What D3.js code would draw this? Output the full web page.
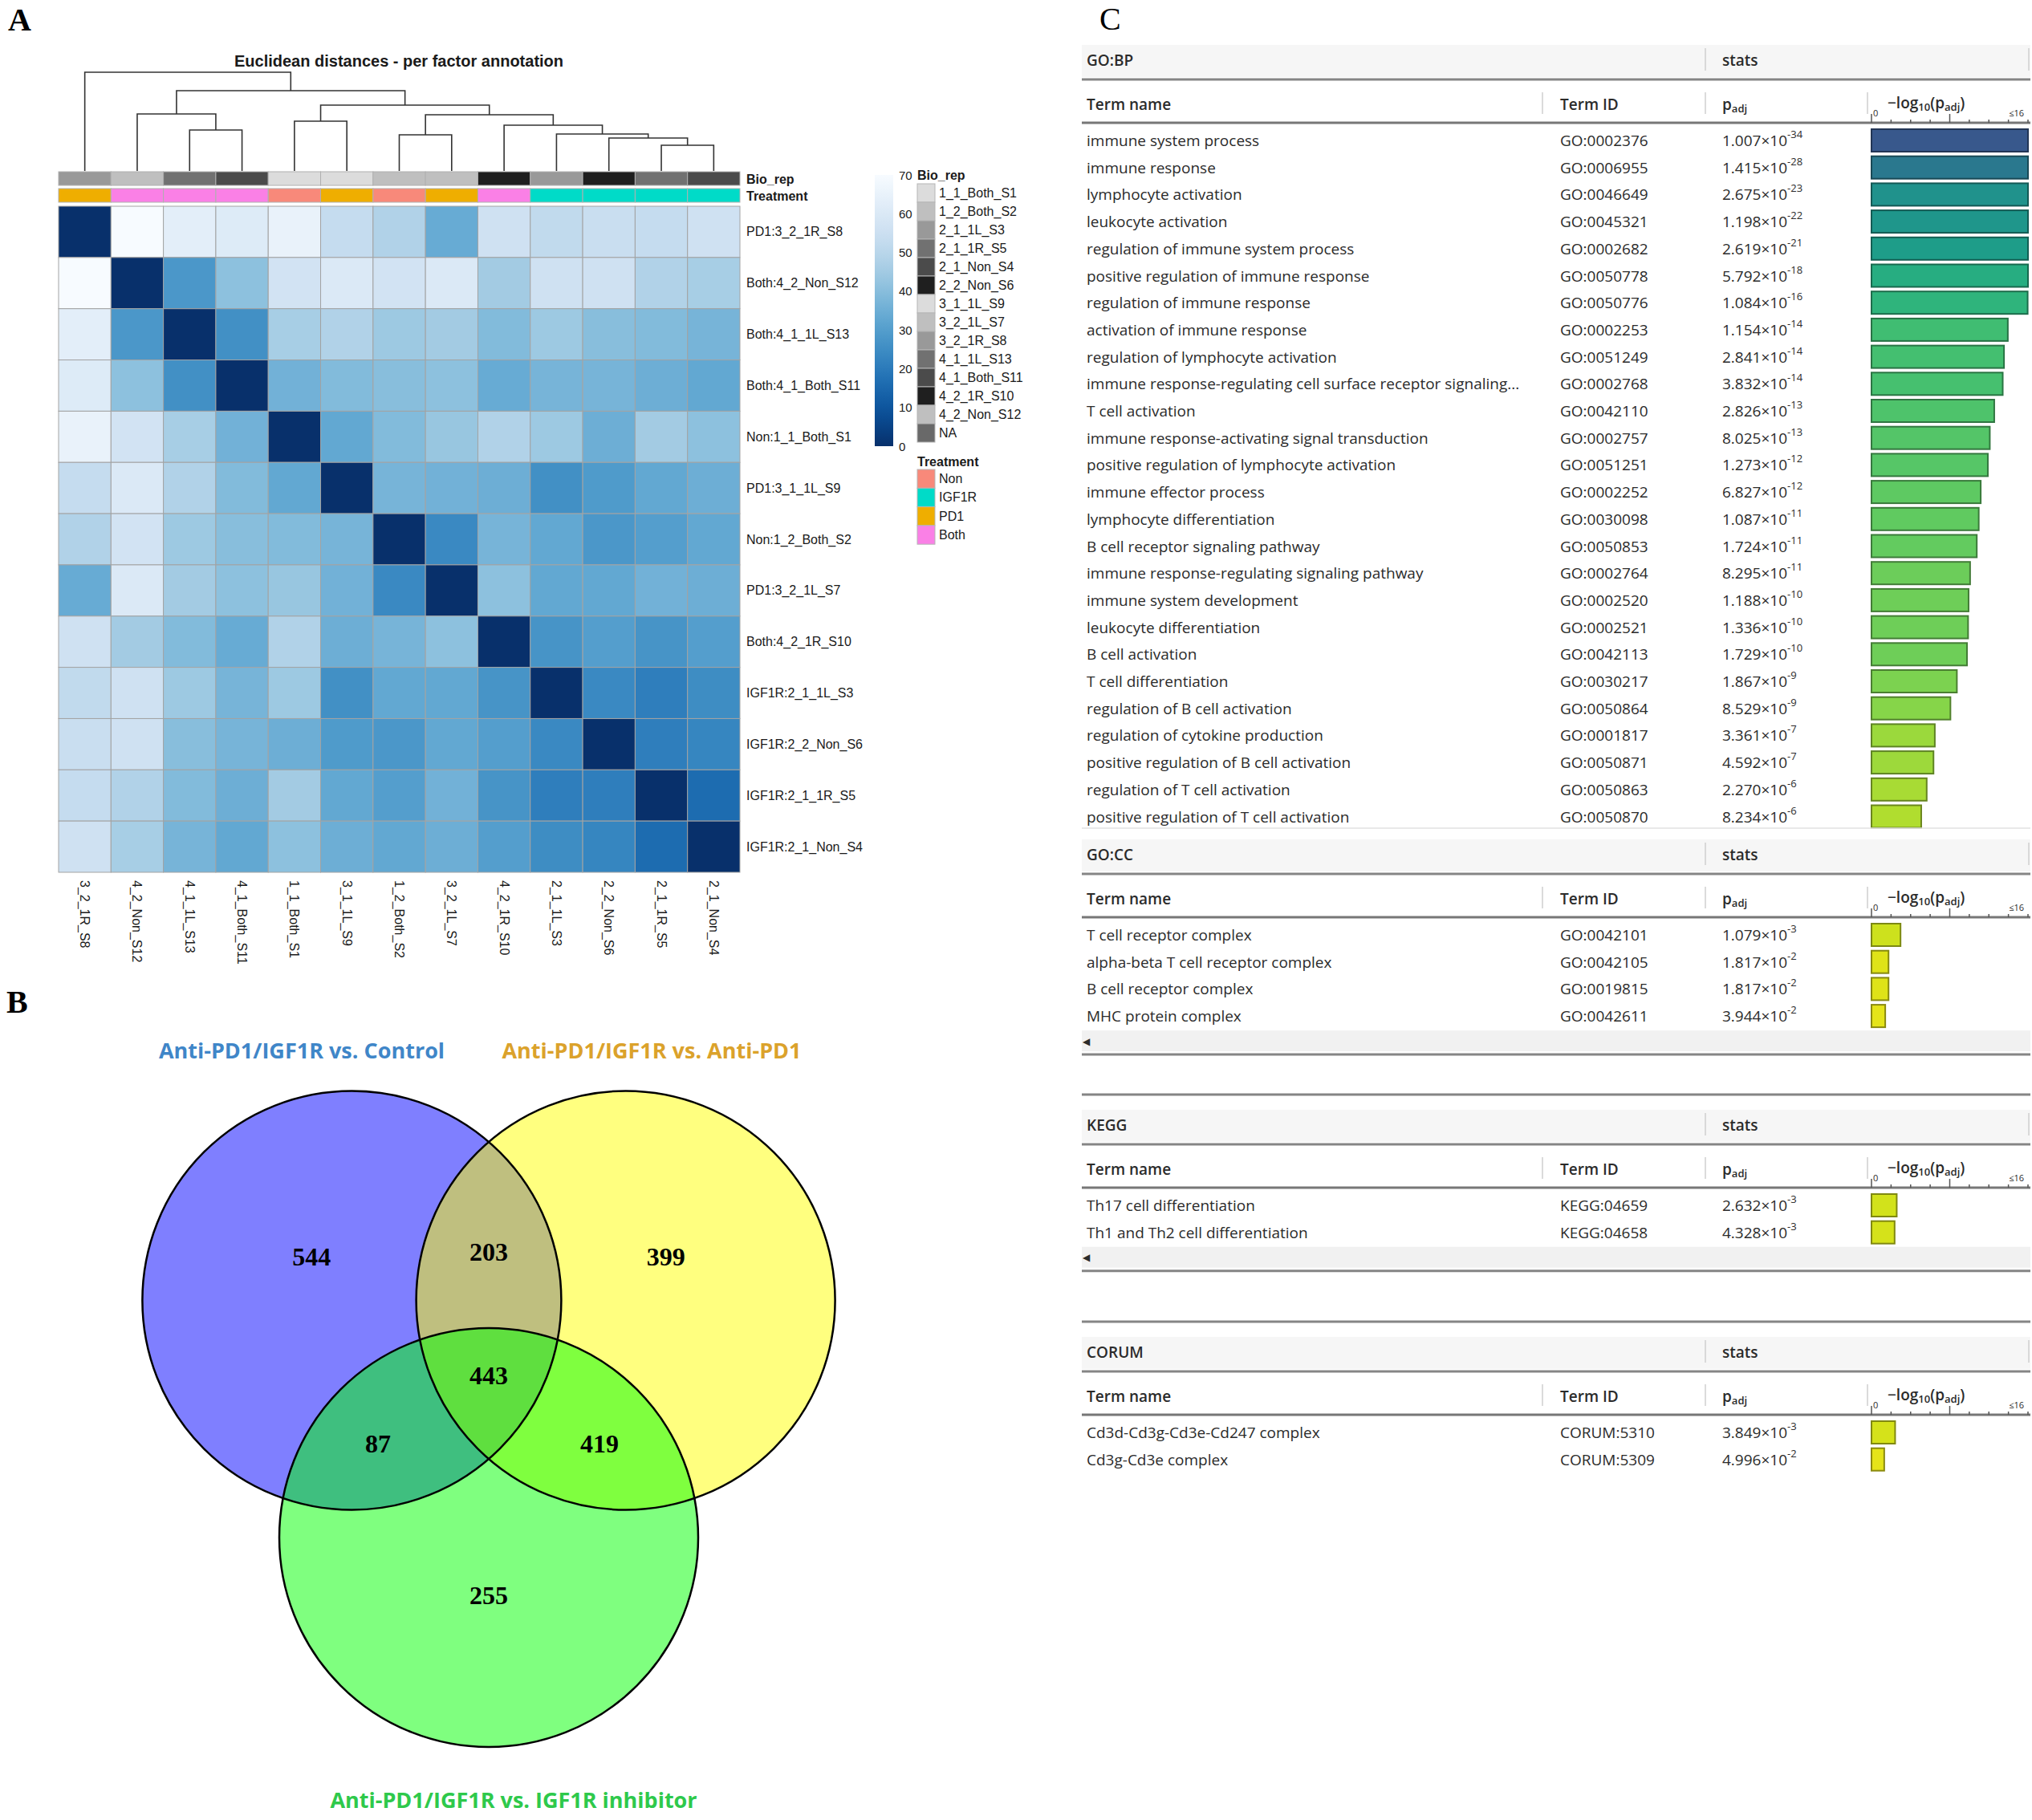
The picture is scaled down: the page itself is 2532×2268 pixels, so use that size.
<!DOCTYPE html>
<html lang="en">
<head>
<meta charset="UTF-8">
<title>Figure</title>
<script src="https://d3js.org/d3.v7.min.js"></script>
<style>
  body { margin: 0; background: #fff; }
  svg { display: block; }
  .hm text { font-family: "Liberation Sans", Arial, sans-serif; fill: #1a1a1a; }
  .tbl text { font-family: "Open Sans", sans-serif; fill: #2b2b2b; font-size: 19px; }
  .panel { font-family: "Liberation Serif", "Times New Roman", serif; font-weight: bold; font-size: 40px; fill: #000; }
</style>
</head>
<body>
<svg width="2532" height="2268"></svg>
<script>
// ---------- A: sample distance heatmap ----------
const samples = ["3_2_1R_S8", "4_2_Non_S12", "4_1_1L_S13", "4_1_Both_S11", "1_1_Both_S1", "3_1_1L_S9",
  "1_2_Both_S2", "3_2_1L_S7", "4_2_1R_S10", "2_1_1L_S3", "2_2_Non_S6", "2_1_1R_S5", "2_1_Non_S4"];
const treatment = ["PD1", "Both", "Both", "Both", "Non", "PD1", "Non", "PD1", "Both", "IGF1R", "IGF1R", "IGF1R", "IGF1R"];
const distances = [
  [0, 70, 63, 61, 65, 53, 48, 34, 56, 52, 54, 53, 56],
  [70, 0, 28, 41, 57, 60, 57, 60, 45, 56, 56, 48, 46],
  [63, 28, 0, 26, 46, 48, 44, 45, 39, 44, 40, 39, 37],
  [61, 41, 26, 0, 36, 39, 40, 41, 34, 37, 37, 35, 33],
  [65, 57, 46, 36, 0, 33, 39, 43, 48, 44, 35, 45, 41],
  [53, 60, 48, 39, 33, 0, 37, 36, 35, 26, 29, 33, 35],
  [48, 57, 44, 40, 39, 37, 0, 24, 37, 33, 28, 30, 33],
  [34, 60, 45, 41, 43, 36, 24, 0, 41, 33, 33, 36, 35],
  [56, 45, 39, 34, 48, 35, 37, 41, 0, 27, 30, 27, 30],
  [52, 56, 44, 37, 44, 26, 33, 33, 27, 0, 24, 21, 25],
  [54, 56, 40, 37, 35, 29, 28, 33, 30, 24, 0, 21, 23],
  [53, 48, 39, 35, 45, 33, 30, 36, 27, 21, 21, 0, 16],
  [56, 46, 37, 33, 41, 35, 33, 35, 30, 25, 23, 16, 0]
];
// hclust-style merges: negative = leaf (1-based column), positive = earlier merge; third value = height
const merges = [
  [-12, -13, 32], [-11, 1, 41], [-10, 2, 46], [-9, 3, 57], [-7, -8, 45], [5, 4, 70],
  [-5, -6, 62], [7, 6, 82], [-3, -4, 51], [-2, 9, 71], [10, 8, 100], [-1, 11, 123]
];
const bioRepLevels = ["1_1_Both_S1", "1_2_Both_S2", "2_1_1L_S3", "2_1_1R_S5", "2_1_Non_S4", "2_2_Non_S6",
  "3_1_1L_S9", "3_2_1L_S7", "3_2_1R_S8", "4_1_1L_S13", "4_1_Both_S11", "4_2_1R_S10", "4_2_Non_S12", "NA"];
const bioRepGrays = ["#dcdcdc", "#bfbfbf", "#999999", "#717171", "#4b4b4b", "#1f1f1f",
  "#dcdcdc", "#bfbfbf", "#999999", "#717171", "#4b4b4b", "#1f1f1f", "#bfbfbf", "#696969"];
const treatLevels = ["Non", "IGF1R", "PD1", "Both"];
const treatColors = ["#f8897a", "#00dbc8", "#efae00", "#fa80e6"];
const colorTicks = [0, 10, 20, 30, 40, 50, 60, 70];

// ---------- B: Venn ----------
const vennSets = ["Anti-PD1/IGF1R vs. Control", "Anti-PD1/IGF1R vs. Anti-PD1", "Anti-PD1/IGF1R vs. IGF1R inhibitor"];
const vennTitleColors = ["#3f86c8", "#dba22b", "#2ec94b"];
const vennFills = ["#0000ff", "#ffff00", "#00ff00"];
const vennMembers = [[0], [1], [2], [0, 1], [0, 2], [1, 2], [0, 1, 2]];
const vennCounts = [544, 399, 255, 203, 87, 419, 443];

// ---------- C: g:Profiler tables ----------
const bpNames = ["immune system process", "immune response", "lymphocyte activation", "leukocyte activation",
  "regulation of immune system process", "positive regulation of immune response", "regulation of immune response",
  "activation of immune response", "regulation of lymphocyte activation",
  "immune response-regulating cell surface receptor signaling...", "T cell activation",
  "immune response-activating signal transduction", "positive regulation of lymphocyte activation",
  "immune effector process", "lymphocyte differentiation", "B cell receptor signaling pathway",
  "immune response-regulating signaling pathway", "immune system development", "leukocyte differentiation",
  "B cell activation", "T cell differentiation", "regulation of B cell activation",
  "regulation of cytokine production", "positive regulation of B cell activation",
  "regulation of T cell activation", "positive regulation of T cell activation"];
const bpIds = ["GO:0002376", "GO:0006955", "GO:0046649", "GO:0045321", "GO:0002682", "GO:0050778", "GO:0050776",
  "GO:0002253", "GO:0051249", "GO:0002768", "GO:0042110", "GO:0002757", "GO:0051251", "GO:0002252", "GO:0030098",
  "GO:0050853", "GO:0002764", "GO:0002520", "GO:0002521", "GO:0042113", "GO:0030217", "GO:0050864", "GO:0001817",
  "GO:0050871", "GO:0050863", "GO:0050870"];
const bpMant = ["1.007", "1.415", "2.675", "1.198", "2.619", "5.792", "1.084", "1.154", "2.841", "3.832", "2.826",
  "8.025", "1.273", "6.827", "1.087", "1.724", "8.295", "1.188", "1.336", "1.729", "1.867", "8.529", "3.361",
  "4.592", "2.270", "8.234"];
const bpExp = [-34, -28, -23, -22, -21, -18, -16, -14, -14, -14, -13, -13, -12, -12, -11, -11, -11, -10, -10, -10,
  -9, -9, -7, -7, -6, -6];
const ccNames = ["T cell receptor complex", "alpha-beta T cell receptor complex", "B cell receptor complex", "MHC protein complex"];
const ccIds = ["GO:0042101", "GO:0042105", "GO:0019815", "GO:0042611"];
const ccMant = ["1.079", "1.817", "1.817", "3.944"];
const ccExp = [-3, -2, -2, -2];
const keggNames = ["Th17 cell differentiation", "Th1 and Th2 cell differentiation"];
const keggIds = ["KEGG:04659", "KEGG:04658"];
const keggMant = ["2.632", "4.328"];
const keggExp = [-3, -3];
const corumNames = ["Cd3d-Cd3g-Cd3e-Cd247 complex", "Cd3g-Cd3e complex"];
const corumIds = ["CORUM:5310", "CORUM:5309"];
const corumMant = ["3.849", "4.996"];
const corumExp = [-3, -2];
const logTicks = [0, 2, 4, 6, 8, 10, 12, 14, 16];

const svg = d3.select("svg");
const defs = svg.append("defs");

svg.append("text").attr("class", "panel").attr("x", 10).attr("y", 38).text("A");
svg.append("text").attr("class", "panel").attr("x", 8).attr("y", 1262).text("B");
svg.append("text").attr("class", "panel").attr("x", 1370).attr("y", 37).style("font-weight", "normal").text("C");

// ===== Panel A =====
const hm = svg.append("g").attr("class", "hm");
const x = d3.scaleBand().domain(d3.range(samples.length)).range([73, 922]);
const y = d3.scaleBand().domain(d3.range(samples.length)).range([257, 1087]);
const blues = d3.scaleSequential(t => d3.interpolateBlues(1 - t)).domain([0, 70]);
const bioColor = d3.scaleOrdinal(bioRepLevels, bioRepGrays);
const trtColor = d3.scaleOrdinal(treatLevels, treatColors);

hm.append("text").attr("x", 497).attr("y", 83).attr("text-anchor", "middle")
  .style("font-size", "20px").style("font-weight", "bold").text("Euclidean distances - per factor annotation");

const cells = [];
distances.forEach((row, r) => row.forEach((v, c) => cells.push({ r, c, v })));
hm.selectAll("rect.cell").data(cells).join("rect").attr("class", "cell")
  .attr("x", d => x(d.c)).attr("y", d => y(d.r))
  .attr("width", x.bandwidth()).attr("height", y.bandwidth())
  .attr("fill", d => blues(d.v)).attr("stroke", "#a3a3a3").attr("stroke-width", 1);

// annotation bars
hm.selectAll("rect.bio").data(samples).join("rect").attr("class", "bio")
  .attr("x", (d, i) => x(i)).attr("y", 214).attr("width", x.bandwidth()).attr("height", 17)
  .attr("fill", d => bioColor(d)).attr("stroke", "#b0b0b0");
hm.selectAll("rect.trt").data(treatment).join("rect").attr("class", "trt")
  .attr("x", (d, i) => x(i)).attr("y", 235).attr("width", x.bandwidth()).attr("height", 17)
  .attr("fill", d => trtColor(d)).attr("stroke", "#b0b0b0");
hm.append("text").attr("x", 930).attr("y", 223).attr("dominant-baseline", "central")
  .style("font-size", "16px").style("font-weight", "bold").text("Bio_rep");
hm.append("text").attr("x", 930).attr("y", 244).attr("dominant-baseline", "central")
  .style("font-size", "16px").style("font-weight", "bold").text("Treatment");

// dendrogram
const dY = d3.scaleLinear().domain([0, d3.max(merges, m => m[2])]).range([213, 90]);
const nodes = [];
merges.forEach(m => {
  const pos = k => k < 0
    ? { x: x(-k - 1) + x.bandwidth() / 2, y: dY(0) }
    : { x: nodes[k - 1].x, y: dY(nodes[k - 1].h) };
  const a = pos(m[0]), b = pos(m[1]);
  const ym = dY(m[2]);
  nodes.push({ x: (a.x + b.x) / 2, h: m[2] });
  hm.append("path").attr("d", `M${a.x},${a.y}V${ym}H${b.x}V${b.y}`)
    .attr("fill", "none").attr("stroke", "#333").attr("stroke-width", 1.6);
});

// row and column labels
hm.selectAll("text.rowlab").data(samples).join("text").attr("class", "rowlab")
  .attr("x", 930).attr("y", (d, i) => y(i) + y.bandwidth() / 2).attr("dominant-baseline", "central")
  .style("font-size", "16px").text((d, i) => treatment[i] + ":" + d);
hm.selectAll("text.collab").data(samples).join("text").attr("class", "collab")
  .attr("transform", (d, i) => `translate(${x(i) + x.bandwidth() / 2},1097) rotate(90)`)
  .attr("dominant-baseline", "central").style("font-size", "16px").text(d => d);

// colour bar
const cbY = d3.scaleLinear().domain([0, 70]).range([556, 218]);
const grad = defs.append("linearGradient").attr("id", "cb").attr("x1", 0).attr("y1", 1).attr("x2", 0).attr("y2", 0);
d3.range(0, 1.0001, 0.05).forEach(t => grad.append("stop").attr("offset", t).attr("stop-color", blues(t * 70)));
hm.append("rect").attr("x", 1090).attr("y", cbY(70)).attr("width", 23).attr("height", cbY(0) - cbY(70))
  .attr("fill", "url(#cb)");
hm.selectAll("text.cbt").data(colorTicks).join("text").attr("class", "cbt")
  .attr("x", 1120).attr("y", d => cbY(d)).attr("dominant-baseline", "central")
  .style("font-size", "15px").text(d => d);

// legends
hm.append("text").attr("x", 1143).attr("y", 224).style("font-size", "16px").style("font-weight", "bold").text("Bio_rep");
hm.selectAll("rect.bl").data(bioRepLevels).join("rect").attr("class", "bl")
  .attr("x", 1143).attr("y", (d, i) => 229 + i * 23).attr("width", 22).attr("height", 23)
  .attr("fill", d => bioColor(d)).attr("stroke", "#b5b5b5");
hm.selectAll("text.bll").data(bioRepLevels).join("text").attr("class", "bll")
  .attr("x", 1170).attr("y", (d, i) => 229 + i * 23 + 11.5).attr("dominant-baseline", "central")
  .style("font-size", "16px").text(d => d);
hm.append("text").attr("x", 1143).attr("y", 581).style("font-size", "16px").style("font-weight", "bold").text("Treatment");
hm.selectAll("rect.tl").data(treatLevels).join("rect").attr("class", "tl")
  .attr("x", 1143).attr("y", (d, i) => 585 + i * 23.3).attr("width", 22).attr("height", 23.3)
  .attr("fill", d => trtColor(d)).attr("stroke", "#b5b5b5");
hm.selectAll("text.tll").data(treatLevels).join("text").attr("class", "tll")
  .attr("x", 1170).attr("y", (d, i) => 585 + i * 23.3 + 11.6).attr("dominant-baseline", "central")
  .style("font-size", "16px").text(d => d);

// ===== Panel B =====
const venn = { cx: 609, cy: 1719, d: 197, r: 261, angles: [210, 330, 90] };
const rad = a => a * Math.PI / 180;
const centers = venn.angles.map(a => ({ x: venn.cx + venn.d * Math.cos(rad(a)), y: venn.cy + venn.d * Math.sin(rad(a)) }));
const vg = svg.append("g");
vg.selectAll("circle.fill").data(centers).join("circle").attr("class", "fill")
  .attr("cx", d => d.x).attr("cy", d => d.y).attr("r", venn.r)
  .attr("fill", (d, i) => vennFills[i]).attr("fill-opacity", 0.5);
vg.selectAll("circle.edge").data(centers).join("circle").attr("class", "edge")
  .attr("cx", d => d.x).attr("cy", d => d.y).attr("r", venn.r)
  .attr("fill", "none").attr("stroke", "#000").attr("stroke-width", 2.5);

function regionPoint(members) {
  if (members.length === 3) return { x: venn.cx, y: venn.cy - 5 };
  const sx = d3.sum(members, m => Math.cos(rad(venn.angles[m])));
  const sy = d3.sum(members, m => Math.sin(rad(venn.angles[m])));
  let a = Math.atan2(sy, sx) * 180 / Math.PI;
  let dist = venn.r * 0.61;
  if (members.length === 1) {
    let rel = ((a - 90) % 360 + 540) % 360 - 180;
    a = 90 + rel * 1.04;
    dist = venn.r * 1.03;
  }
  return { x: venn.cx + dist * Math.cos(rad(a)), y: venn.cy + dist * Math.sin(rad(a)) };
}
vg.selectAll("text.cnt").data(vennCounts).join("text").attr("class", "cnt")
  .attr("x", (d, i) => regionPoint(vennMembers[i]).x).attr("y", (d, i) => regionPoint(vennMembers[i]).y)
  .attr("text-anchor", "middle").attr("dominant-baseline", "central")
  .style("font-family", "'Liberation Serif', 'Times New Roman', serif").style("font-weight", "bold")
  .style("font-size", "32px").text(d => d);

const titlePos = [[376, 1308], [812, 1308], [640, 2242]];
vg.selectAll("text.vt").data(vennSets).join("text").attr("class", "vt")
  .attr("x", (d, i) => titlePos[i][0]).attr("y", (d, i) => titlePos[i][1])
  .attr("text-anchor", "middle").attr("dominant-baseline", "central")
  .style("font-family", "'Open Sans', sans-serif").style("font-weight", "bold").style("font-size", "27px")
  .attr("fill", (d, i) => vennTitleColors[i]).text(d => d);

// ===== Panel C =====
const tbl = svg.append("g").attr("class", "tbl");
const L = 1348, R = 2530;
const colName = 1354, colId = 1944, colP = 2146, colBar = 2327;
const bx = d3.scaleLinear().domain([0, 16]).range([2332, 2527]).clamp(true);
const barColor = v => d3.interpolateViridis(Math.max(0, Math.min(1, 0.987 - 0.0211 * v)));
const rowStep = 33.7;

function hline(yy, w, col) {
  tbl.append("line").attr("x1", L).attr("x2", R).attr("y1", yy).attr("y2", yy)
    .attr("stroke", col || "#858585").attr("stroke-width", w || 3);
}
function vline(xx, y1, y2) {
  tbl.append("line").attr("x1", xx).attr("x2", xx).attr("y1", y1).attr("y2", y2)
    .attr("stroke", "#cfcfcf").attr("stroke-width", 1.5);
}

function section(title, names, ids, mant, expo, y0, topLine, scrollbar) {
  if (topLine === "thick") hline(y0 - 38, 3);
  if (topLine === "thin") hline(y0 - 33, 1.5, "#e2e2e2");
  tbl.append("rect").attr("x", L).attr("y", y0 - 19).attr("width", R - L).attr("height", 40).attr("fill", "#f6f6f6");
  tbl.append("text").attr("x", colName).attr("y", y0).attr("dominant-baseline", "central")
    .style("font-weight", 600).attr("fill", "#222").text(title);
  tbl.append("text").attr("x", colP).attr("y", y0).attr("dominant-baseline", "central")
    .style("font-weight", 600).attr("fill", "#222").text("stats");
  vline(2125, y0 - 15, y0 + 13);
  vline(2528, y0 - 15, y0 + 13);
  hline(y0 + 24, 3);

  const hy = y0 + 55;
  [[colName, "Term name"], [colId, "Term ID"]].forEach(([xx, t]) =>
    tbl.append("text").attr("x", xx).attr("y", hy).attr("dominant-baseline", "central")
      .style("font-weight", 600).attr("fill", "#222").text(t));
  const ph = tbl.append("text").attr("x", colP).attr("y", hy).attr("dominant-baseline", "central")
    .style("font-weight", 600).attr("fill", "#222");
  ph.append("tspan").text("p");
  ph.append("tspan").attr("dy", 5).style("font-size", "13px").text("adj");
  const lh = tbl.append("text").attr("x", 2352).attr("y", hy - 2).attr("dominant-baseline", "central")
    .style("font-weight", 600).attr("fill", "#222");
  lh.append("tspan").text("\u2212log");
  lh.append("tspan").attr("dy", 5).style("font-size", "13px").text("10");
  lh.append("tspan").attr("dy", -5).text("(p");
  lh.append("tspan").attr("dy", 5).style("font-size", "13px").text("adj");
  lh.append("tspan").attr("dy", -5).text(")");
  [1922, 2125, colBar].forEach(xx => vline(xx, y0 + 40, y0 + 67));
  const ay = y0 + 78;
  hline(ay, 3, "#777");
  tbl.selectAll(null).data(logTicks).join("line")
    .attr("x1", d => bx(d)).attr("x2", d => bx(d))
    .attr("y1", d => (d === 0 || d === 8) ? ay - 11 : ay - 4).attr("y2", ay)
    .attr("stroke", "#555").attr("stroke-width", 1.5);
  tbl.append("text").attr("x", bx(0) + 2).attr("y", ay - 8).style("font-size", "11px").attr("fill", "#222").text("0");
  tbl.append("text").attr("x", 2522).attr("y", ay - 8).attr("text-anchor", "end")
    .style("font-size", "11px").attr("fill", "#222").text("\u226416");

  const ry = i => y0 + 100 + i * rowStep;
  names.forEach((n, i) => {
    const yy = ry(i);
    const v = -Math.log10(+mant[i] * Math.pow(10, expo[i]));
    tbl.append("text").attr("x", colName).attr("y", yy).attr("dominant-baseline", "central").text(n);
    tbl.append("text").attr("x", colId).attr("y", yy).attr("dominant-baseline", "central").text(ids[i]);
    const pt = tbl.append("text").attr("x", colP).attr("y", yy).attr("dominant-baseline", "central");
    pt.append("tspan").text(mant[i] + "\u00d710");
    pt.append("tspan").attr("dy", -8).style("font-size", "13px").text(expo[i]);
    const c = barColor(v);
    tbl.append("rect").attr("x", bx(0)).attr("y", yy - 14).attr("width", bx(v) - bx(0)).attr("height", 28)
      .attr("fill", c).attr("stroke", d3.color(c).darker(1.4)).attr("stroke-width", 2);
  });
  const last = ry(names.length - 1);
  if (scrollbar) {
    tbl.append("rect").attr("x", L).attr("y", last + 18).attr("width", R - L).attr("height", 26).attr("fill", "#f1f1f1");
    tbl.append("text").attr("x", 1349).attr("y", last + 31).attr("dominant-baseline", "central")
      .style("font-size", "12px").attr("fill", "#222").text("\u25c0");
    hline(last + 48, 3);
  }
}

section("GO:BP", bpNames, bpIds, bpMant, bpExp, 75, null, false);
section("GO:CC", ccNames, ccIds, ccMant, ccExp, 1065, "thin", true);
section("KEGG", keggNames, keggIds, keggMant, keggExp, 1402, "thick", true);
section("CORUM", corumNames, corumIds, corumMant, corumExp, 1685, "thick", false);
</script>
</body>
</html>
